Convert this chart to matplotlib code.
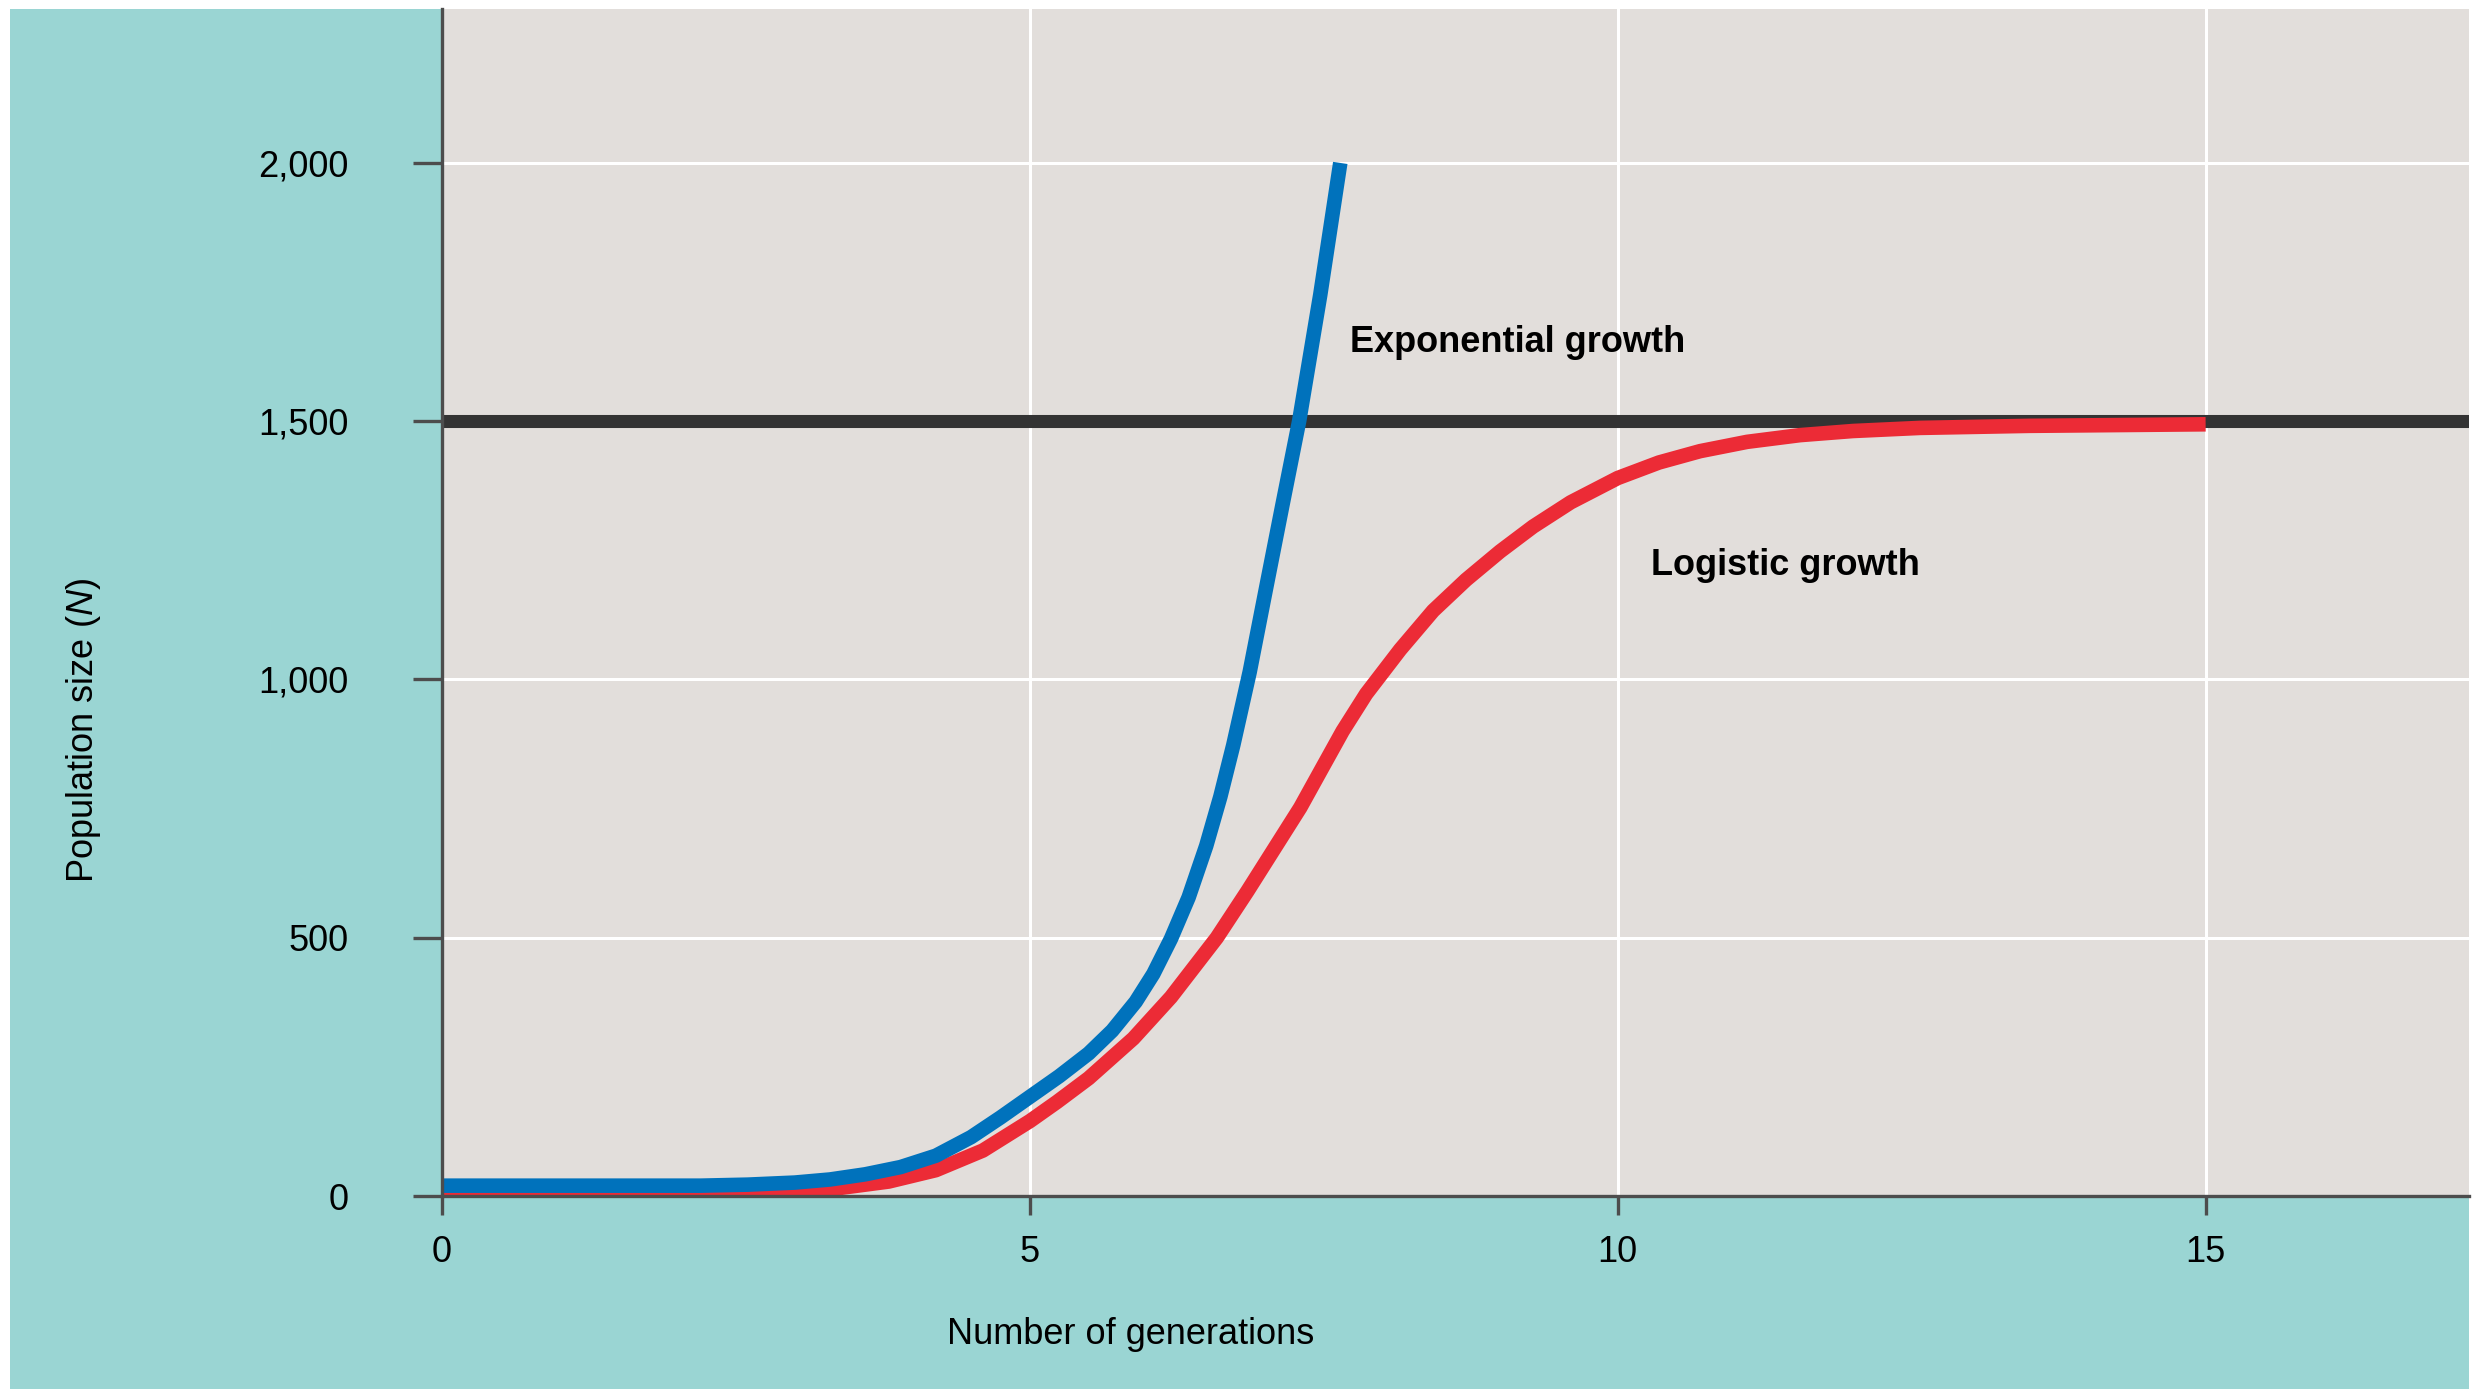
"""
Exponential vs logistic population growth (carrying capacity K = 1,500).
"""
import matplotlib
matplotlib.use("Agg")
import matplotlib.pyplot as plt
from matplotlib.patches import Rectangle

# ── Data ──────────────────────────────────────────────────────────────────────
exp_gen = [0, 1, 1.8, 2.2, 2.6, 3.0, 3.3, 3.6, 3.9, 4.2, 4.5, 4.75, 5.0,
           5.25, 5.5, 5.7, 5.9, 6.05, 6.2, 6.35, 6.5, 6.62, 6.73, 6.87,
           7.01, 7.15, 7.29, 7.47, 7.64]
exp_pop = [20, 20, 20, 20, 22, 26, 32, 42, 56, 78, 114, 152, 192,
           232, 276, 320, 376, 430, 498, 578, 678, 773, 873, 1015,
           1178, 1340, 1500, 1745, 2000]

log_gen = [0, 1, 2, 2.5, 3.0, 3.4, 3.8, 4.2, 4.6, 5.0, 5.23, 5.5, 5.88,
           6.2, 6.59, 6.85, 7.1, 7.3, 7.47, 7.66, 7.86, 8.15, 8.43, 8.71,
           9.0, 9.28, 9.6, 10.0, 10.35, 10.7, 11.1, 11.55, 12.0, 12.57,
           13.5, 15]
log_pop = [0, 0, 1, 3, 8, 16, 28, 50, 88, 145, 182, 228, 305,
           385, 500, 590, 680, 752, 822, 900, 972, 1058, 1133, 1193,
           1248, 1296, 1343, 1390, 1420, 1442, 1460, 1473, 1481, 1487,
           1491, 1494]

carrying_capacity = 1500

x_ticks = [0, 5, 10, 15]
y_ticks = [0, 500, 1000, 1500, 2000]
y_tick_labels = ["0", "500", "1,000", "1,500", "2,000"]

TEAL  = "#9ad5d3"
PANEL = "#e2dedb"
BLUE  = "#0072bc"
RED   = "#ec2b36"
DARK  = "#333333"
AXIS  = "#4d4d4d"

plt.rcParams["font.family"] = ["Liberation Sans", "DejaVu Sans"]
plt.rcParams["mathtext.fontset"] = "custom"
plt.rcParams["mathtext.it"] = "Liberation Sans:italic"
plt.rcParams["mathtext.rm"] = "Liberation Sans"

# ── Figure ────────────────────────────────────────────────────────────────────
fig = plt.figure(figsize=(24.84, 13.89), dpi=100, facecolor="white")
fig.patches.append(Rectangle((10 / 2484, 0), 2459 / 2484, 1380 / 1389,
                             transform=fig.transFigure, facecolor=TEAL,
                             edgecolor="none", zorder=-5))

ax = fig.add_axes([442 / 2484, 193 / 1389, 2027 / 2484, 1187 / 1389])
ax.set_zorder(2)
ax.set_facecolor(PANEL)
ax.set_xlim(0, 17.24)
ax.set_ylim(0, 2298)

ax.set_xticks(x_ticks)
ax.set_yticks(y_ticks)
ax.set_yticklabels(y_tick_labels)
ax.grid(True, color="white", linewidth=2.2, zorder=1)
ax.set_axisbelow(True)

for side in ("top", "right"):
    ax.spines[side].set_visible(False)
for side in ("left", "bottom"):
    ax.spines[side].set_color(AXIS)
    ax.spines[side].set_linewidth(2.4)
    ax.spines[side].set_zorder(5)

ax.tick_params(axis="x", direction="out", length=14, width=2.4, color=AXIS,
               labelsize=26, pad=14)
ax.tick_params(axis="y", direction="out", length=21, width=2.4, color=AXIS,
               labelsize=26, pad=46)

# ── Curves ────────────────────────────────────────────────────────────────────
ax.axhline(carrying_capacity, color=DARK, linewidth=9.4, zorder=2)
ax.plot(log_gen, log_pop, color=RED, linewidth=10.5, solid_capstyle="butt",
        solid_joinstyle="round", zorder=3)
ax.plot(exp_gen, exp_pop, color=BLUE, linewidth=10.5, solid_capstyle="butt",
        solid_joinstyle="round", zorder=4)

ax.text(7.72, 1634, "Exponential growth", fontsize=26, fontweight="bold",
        ha="left", va="baseline")
ax.text(10.28, 1203, "Logistic growth", fontsize=26, fontweight="bold",
        ha="left", va="baseline")

# ── Labels ────────────────────────────────────────────────────────────────────
ax.set_xlabel("Number of generations", fontsize=26)
ax.xaxis.set_label_coords(0.3396, -0.117)
ax.xaxis.label.set_va("center")
ax.set_ylabel("Population size ($\\mathit{N}$)", fontsize=26)
ax.yaxis.set_label_coords(-0.1767, 0.392)
ax.yaxis.label.set_va("center")

fig.savefig("out.png", dpi=100, facecolor="white")
